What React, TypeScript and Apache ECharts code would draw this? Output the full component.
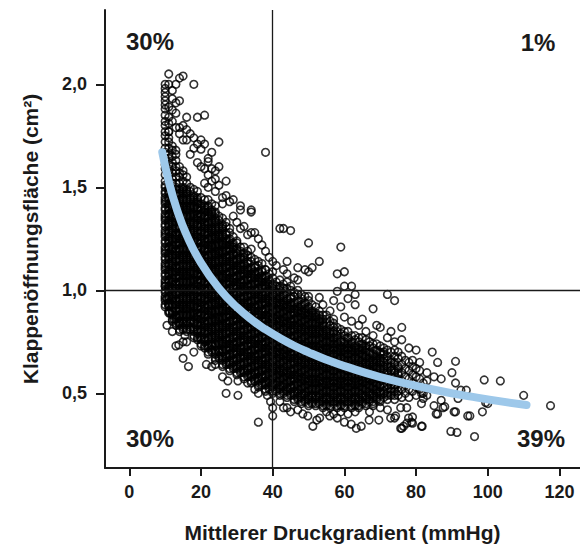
import React, { useEffect, useRef } from "react";
import * as echarts from "echarts";

const xTicks = [0, 20, 40, 60, 80, 100, 120];
const yTicks = [0.5, 1.0, 1.5, 2.0];
const xTitle = "Mittlerer Druckgradient (mmHg)";
const yTitle = "Klappenöffnungsfläche (cm²)";
const quadrantLabels = ["30%", "1%", "30%", "39%"];
const thresholdGradient = 40;
const thresholdArea = 1.0;

// fitted curve
const curveGradient = [9.2, 11, 13.3, 16, 20, 25, 30, 35, 38, 42, 46, 50, 55, 60, 70, 84, 97, 110.8];
const curveArea = [
  1.67, 1.529, 1.391, 1.268, 1.133, 1.01, 0.918, 0.846, 0.81, 0.768, 0.731, 0.699, 0.663, 0.632, 0.579, 0.521,
  0.479, 0.443,
];

// dense cloud: one column per mmHg, areas in 1/100 cm²
const denseGradients = [
  10, 11, 12, 13, 14, 15, 16, 17, 18, 19, 20, 21, 22, 23, 24, 25, 26, 27, 28, 29, 30,
  31, 32, 33, 34, 35, 36, 37, 38, 39, 40, 41, 42, 43, 44, 45, 46, 47, 48, 49, 50,
  51, 52, 53, 54, 55, 56, 57, 58, 59, 60, 61, 62, 63, 64, 65, 66, 67, 68, 69, 70,
  71, 72, 73, 74, 75, 76, 77, 78, 79, 80, 81, 82,
];
const denseAreas = [
  "92 95 97 100 103 105 108 111 113 116 119 121 124 127 129 132 135 137 140 143 145 148 151 153 156 159 161 164 167 169 172 175 177 180",
  "89 92 94 97 100 102 105 108 110 113 116 118 121 124 126 129 132 134 137 140 142 145 148 150 153 156 158 161 164 166 169 172 174 177",
  "85 88 90 93 96 98 101 104 106 109 112 114 117 120 122 125 128 130 133 136 138 141 144 146 149 152 154 157 160 162 165 168 170",
  "83 86 88 91 94 96 99 102 104 107 110 112 115 118 120 123 126 128 131 134 136 139 142 144 147 150 152 155 158 160 163 166 168",
  "80 83 85 88 91 93 96 99 101 104 107 109 112 115 117 120 123 125 128 131 133 136 139 141 144 147 149 152 155 157 160",
  "81 84 86 89 92 94 97 100 102 105 108 110 113 116 118 121 124 126 129 132 134 137 140 142 145 148 150 153 156 158",
  "80 83 85 88 91 93 96 99 101 104 107 109 112 115 117 120 123 125 128 131 133 136 139 141 144 147 149 152 155",
  "81 84 86 89 92 94 97 100 102 105 108 110 113 116 118 121 124 126 129 132 134 137 140 142 145 148 150",
  "77 80 82 85 88 90 93 96 98 101 104 106 109 112 114 117 120 122 125 128 130 133 136 138 141 144 146 149",
  "76 79 81 84 87 89 92 95 97 100 103 105 108 111 113 116 119 121 124 127 129 132 135 137 140 143 145 148",
  "73 76 78 81 84 86 89 92 94 97 100 102 105 108 110 113 116 118 121 124 126 129 132 134 137 140 142 145",
  "72 75 77 80 83 85 88 91 93 96 99 101 104 107 109 112 115 117 120 123 125 128 131 133 136 139 141 144",
  "69 72 74 77 80 82 85 88 90 93 96 98 101 104 106 109 112 114 117 120 122 125 128 130 133 136 138 141 144",
  "70 73 75 78 81 83 86 89 91 94 97 99 102 105 107 110 113 115 118 121 123 126 129 131 134 137 139 142",
  "66 69 71 74 77 79 82 85 87 90 93 95 98 101 103 106 109 111 114 117 119 122 125 127 130 133 135 138 141",
  "67 70 72 75 78 80 83 86 88 91 94 96 99 102 104 107 110 112 115 118 120 123 126 128 131 134 136",
  "63 66 68 71 74 76 79 82 84 87 90 92 95 98 100 103 106 108 111 114 116 119 122 124 127 130 132 135",
  "64 67 69 72 75 77 80 83 85 88 91 93 96 99 101 104 107 109 112 115 117 120 123 125 128 131 133",
  "61 64 66 69 72 74 77 80 82 85 88 90 93 96 98 101 104 106 109 112 114 117 120 122 125 128 130",
  "62 65 67 70 73 75 78 81 83 86 89 91 94 97 99 102 105 107 110 113 115 118 121 123 126",
  "59 62 64 67 70 72 75 78 80 83 86 88 91 94 96 99 102 104 107 110 112 115 118 120 123",
  "60 63 65 68 71 73 76 79 81 84 87 89 92 95 97 100 103 105 108 111 113 116 119 121",
  "57 60 62 65 68 70 73 76 78 81 84 86 89 92 94 97 100 102 105 108 110 113 116 118 121",
  "58 61 63 66 69 71 74 77 79 82 85 87 90 93 95 98 101 103 106 109 111 114 117 119",
  "55 58 60 63 66 68 71 74 76 79 82 84 87 90 92 95 98 100 103 106 108 111 114 116",
  "56 59 61 64 67 69 72 75 77 80 83 85 88 91 93 96 99 101 104 107 109 112 115",
  "53 56 58 61 64 66 69 72 74 77 80 82 85 88 90 93 96 98 101 104 106 109 112 114",
  "54 57 59 62 65 67 70 73 75 78 81 83 86 89 91 94 97 99 102 105 107 110 113",
  "51 54 56 59 62 64 67 70 72 75 78 80 83 86 88 91 94 96 99 102 104 107 110",
  "52 55 57 60 63 65 68 71 73 76 79 81 84 87 89 92 95 97 100 103 105 108",
  "50 53 55 58 61 63 66 69 71 74 77 79 82 85 87 90 93 95 98 101 103 106",
  "51 54 56 59 62 64 67 70 72 75 78 80 83 86 88 91 94 96 99 102 104",
  "49 52 54 57 60 62 65 68 70 73 76 78 81 84 86 89 92 94 97 100 102 105",
  "50 53 55 58 61 63 66 69 71 74 77 79 82 85 87 90 93 95 98 101 103",
  "48 51 53 56 59 61 64 67 69 72 75 77 80 83 85 88 91 93 96 99 101",
  "49 52 54 57 60 62 65 68 70 73 76 78 81 84 86 89 92 94 97 100 102",
  "46 49 51 54 57 59 62 65 67 70 73 75 78 81 83 86 89 91 94 97 99",
  "47 50 52 55 58 60 63 66 68 71 74 76 79 82 84 87 90 92 95 98 100",
  "45 48 50 53 56 58 61 64 66 69 72 74 77 80 82 85 88 90 93 96 98",
  "46 49 51 54 57 59 62 65 67 70 73 75 78 81 83 86 89 91 94 97",
  "44 47 49 52 55 57 60 63 65 68 71 73 76 79 81 84 87 89 92 95 97",
  "45 48 50 53 56 58 61 64 66 69 72 74 77 80 82 85 88 90 93",
  "44 47 49 52 55 57 60 63 65 68 71 73 76 79 81 84 87 89 92",
  "45 48 50 53 56 58 61 64 66 69 72 74 77 80 82 85 88 90",
  "43 46 48 51 54 56 59 62 64 67 70 72 75 78 80 83 86 88",
  "44 47 49 52 55 57 60 63 65 68 71 73 76 79 81 84 86",
  "43 46 48 51 54 56 59 62 64 67 70 72 75 78 80 83 85",
  "45 48 50 53 56 58 61 64 66 69 72 74 77 80 82 84",
  "43 46 48 51 54 56 59 62 64 67 70 72 75 78 80 82",
  "44 47 49 52 55 57 60 63 65 68 71 73 76 79 81",
  "43 46 48 51 54 56 59 62 64 67 70 72 75 78 80",
  "45 48 50 53 56 58 61 64 66 69 72 74 77 80",
  "43 46 48 51 54 56 59 62 64 67 70 72 75 78",
  "44 47 49 52 55 57 60 63 65 68 71 73 76 78",
  "43 46 48 51 54 56 59 62 64 67 70 72 75 77",
  "45 48 50 53 56 58 61 64 66 69 72 74 77",
  "44 47 49 52 55 57 60 63 65 68 71 73 76",
  "46 49 51 54 57 59 62 65 67 70 73 75",
  "45 48 50 53 56 58 61 64 66 69 72 74",
  "47 50 52 55 58 60 63 66 68 71 74",
  "46 49 51 54 57 59 62 65 67 70 73",
  "48 51 55 58 62 65 69 72",
  "47 50 54 57 61 64 68 71",
  "49 52 56 59 63 66 70",
  "47 51 54 58 61 65 68 71",
  "49 53 56 60 63 67 70",
  "48 52 56 60 64 68",
  "50 54 58 62 66",
  "48 52 57 61 65",
  "51 55 59 63 66",
  "49 53 58 62",
  "52 57 61",
  "50 55",
];

// second layer of the black core, same columns (10..75 mmHg), areas in 1/100 cm²
const coreGradients = [
  10, 11, 12, 13, 14, 15, 16, 17, 18, 19, 20, 21, 22, 23, 24, 25, 26, 27, 28, 29, 30,
  31, 32, 33, 34, 35, 36, 37, 38, 39, 40, 41, 42, 43, 44, 45, 46, 47, 48, 49, 50,
  51, 52, 53, 54, 55, 56, 57, 58, 59, 60, 61, 62, 63, 64, 65, 66, 67, 68, 69, 70,
  71, 72, 73, 74, 75,
];
const coreAreas = [
  "93 96 99 102 104 107 110 112 115 118 120 123 126 128 131 134 136 139 142 144 147 150",
  "90 93 96 99 101 104 107 109 112 115 117 120 123 125 128 131 133 136 139 141 144 147 149",
  "86 89 92 95 97 100 103 105 108 111 113 116 119 121 124 127 129 132 135 137 140 143 145 148",
  "84 87 90 93 95 98 101 103 106 109 111 114 117 119 122 125 127 130 133 135 138 141 143 146 149",
  "81 84 87 90 92 95 98 100 103 106 108 111 114 116 119 122 124 127 130 132 135 138 140 143 146 148",
  "82 85 88 91 93 96 99 101 104 107 109 112 115 117 120 123 125 128 131 133 136 139 141 144 147 149",
  "81 84 87 90 92 95 98 100 103 106 108 111 114 116 119 122 124 127 130 132 135 138 140 143 146 148",
  "82 85 88 91 93 96 99 101 104 107 109 112 115 117 120 123 125 128 131 133 136 139 141 144",
  "78 81 84 87 89 92 95 97 100 103 105 108 111 113 116 119 121 124 127 129 132 135 137 140 143 145",
  "77 80 83 86 88 91 94 96 99 102 104 107 110 112 115 118 120 123 126 128 131 134 136 139 142 144",
  "74 77 80 83 85 88 91 93 96 99 101 104 107 109 112 115 117 120 123 125 128 131 133 136 139 141",
  "73 76 79 82 84 87 90 92 95 98 100 103 106 108 111 114 116 119 122 124 127 130 132 135 138 140",
  "70 73 76 79 81 84 87 89 92 95 97 100 103 105 108 111 113 116 119 121 124 127 129 132 135 137 140",
  "71 74 77 80 82 85 88 90 93 96 98 101 104 106 109 112 114 117 120 122 125 128 130 133 136 138",
  "67 70 73 76 78 81 84 86 89 92 94 97 100 102 105 108 110 113 116 118 121 124 126 129 132 134 137",
  "68 71 74 77 79 82 85 87 90 93 95 98 101 103 106 109 111 114 117 119 122 125 127 130",
  "64 67 70 73 75 78 81 83 86 89 91 94 97 99 102 105 107 110 113 115 118 121 123 126 129 131",
  "65 68 71 74 76 79 82 84 87 90 92 95 98 100 103 106 108 111 114 116 119 122 124 127",
  "62 65 68 71 73 76 79 81 84 87 89 92 95 97 100 103 105 108 111 113 116 119 121 124",
  "63 66 69 72 74 77 80 82 85 88 90 93 96 98 101 104 106 109 112 114 117 120 122",
  "60 63 66 69 71 74 77 79 82 85 87 90 93 95 98 101 103 106 109 111 114 117 119",
  "61 64 67 70 72 75 78 80 83 86 88 91 94 96 99 102 104 107 110 112 115",
  "58 61 64 67 69 72 75 77 80 83 85 88 91 93 96 99 101 104 107 109 112 115 117",
  "59 62 65 68 70 73 76 78 81 84 86 89 92 94 97 100 102 105 108 110 113",
  "56 59 62 65 67 70 73 75 78 81 83 86 89 91 94 97 99 102 105 107 110",
  "57 60 63 66 68 71 74 76 79 82 84 87 90 92 95 98 100 103 106 108 111",
  "54 57 60 63 65 68 71 73 76 79 81 84 87 89 92 95 97 100 103 105 108",
  "55 58 61 64 66 69 72 74 77 80 82 85 88 90 93 96 98 101 104 106 109",
  "52 55 58 61 63 66 69 71 74 77 79 82 85 87 90 93 95 98 101 103 106",
  "53 56 59 62 64 67 70 72 75 78 80 83 86 88 91 94 96 99 102 104",
  "51 54 57 60 62 65 68 70 73 76 78 81 84 86 89 92 94 97 100 102",
  "52 55 58 61 63 66 69 71 74 77 79 82 85 87 90 93 95 98",
  "50 53 56 59 61 64 67 69 72 75 77 80 83 85 88 91 93 96 99 101",
  "51 54 57 60 62 65 68 70 73 76 78 81 84 86 89 92 94 97",
  "49 52 55 58 60 63 66 68 71 74 76 79 82 84 87 90 92 95",
  "50 53 56 59 61 64 67 69 72 75 77 80 83 85 88 91 93 96",
  "47 50 53 56 58 61 64 66 69 72 74 77 80 82 85 88 90 93",
  "48 51 54 57 59 62 65 67 70 73 75 78 81 83 86 89 91 94",
  "46 49 52 55 57 60 63 65 68 71 73 76 79 81 84 87 89 92",
  "47 50 53 56 58 61 64 66 69 72 74 77 80 82 85 88 90 93",
  "45 48 51 54 56 59 62 64 67 70 72 75 78 80 83 86 88 91",
  "46 49 52 55 57 60 63 65 68 71 73 76 79 81 84 87 89",
  "45 48 51 54 56 59 62 64 67 70 72 75 78 80 83 86 88",
  "46 49 52 55 57 60 63 65 68 71 73 76 79 81 84 86",
  "44 47 50 53 55 58 61 63 66 69 71 74 77 79 82 84",
  "45 48 51 54 56 59 62 64 67 70 72 75 78 80",
  "44 47 50 53 55 58 61 63 66 69 71 74 77 79",
  "46 49 52 55 57 60 63 65 68 71 73 76 79",
  "44 47 50 53 55 58 61 63 66 69 71 74 77",
  "45 48 51 54 56 59 62 64 67 70 72 75",
  "44 47 50 53 55 58 61 63 66 69 71 74",
  "46 49 52 55 57 60 63 65 68 71 73 76",
  "44 47 50 53 55 58 61 63 66 69 71 74",
  "45 48 51 54 56 59 62 64 67 70 72",
  "44 47 50 53 55 58 61 63 66 69 71",
  "46 49 52 55 57 60 63 65 68 71 73",
  "45 48 51 54 56 59 62 64 67 70 72",
  "47 50 53 56 58 61 64 66 69",
  "46 49 52 55 57 60 63 65 68",
  "48 51 54 57 59 62 65 67 70",
  "47 50 53 56 58 61 64 66 69",
  "50 53 57 60 63 67 70",
  "49 52 56 59 63 66",
  "51 54 58 61 65",
  "49 53 56 60 64",
  "51 55 59 62",
];

// scattered points around the cloud [gradient mmHg, area cm²]
const outlierPoints = [
  [11, 2.05], [14, 2.03], [15, 2.04], [18, 2.0], [10, 2.0], [11, 2.0], [13, 2.0], [10, 1.96], [10, 1.94],
  [13, 1.91], [14, 1.92], [10, 1.9], [11, 1.89], [12, 1.875], [16, 1.84], [19, 1.84], [21, 1.85], [10, 1.85],
  [10, 1.82], [11, 1.81], [14, 1.79], [11, 1.77], [14, 1.76], [16, 1.78], [10, 1.88], [10, 1.92], [10, 1.98],
  [12, 1.93], [12, 1.97], [11, 1.84], [12, 1.82], [13, 1.86], [13, 1.79], [15, 1.8], [17, 1.76], [18, 1.74],
  [15, 1.73], [16, 1.73], [20, 1.73], [21, 1.71], [25, 1.72], [18, 1.69], [20, 1.685], [23, 1.67], [38, 1.67],
  [19, 1.71], [17, 1.66], [19, 1.62], [20, 1.6], [22, 1.625], [22, 1.64], [24, 1.58], [27, 1.53], [24, 1.54],
  [22, 1.56], [21, 1.59], [23, 1.59], [25, 1.6], [23, 1.53], [21, 1.52], [22, 1.5], [24, 1.48], [25, 1.51],
  [26, 1.45], [28, 1.43], [27, 1.46], [29, 1.44], [31, 1.39], [34, 1.38], [26, 1.42], [31, 1.41], [34, 1.39],
  [29, 1.36], [30, 1.33], [31, 1.3], [32, 1.31], [33, 1.27], [35, 1.28], [34, 1.28], [30, 1.24], [34, 1.2],
  [36, 1.25], [37, 1.22], [38, 1.19], [39, 1.16], [40, 1.14], [41, 1.12], [43, 1.1], [38, 1.1], [40, 1.09],
  [42, 1.3], [43, 1.3], [45, 1.29], [44, 1.14], [44, 1.08], [44, 1.04], [46, 1.06], [47, 1.05], [50, 1.23],
  [59, 1.21], [47, 1.11], [49, 1.1], [51, 1.11], [53, 1.14], [50, 1.09], [58, 1.08], [60, 1.09], [60, 1.02],
  [62, 1.02], [58, 0.995], [63, 0.98], [57, 0.95], [61, 0.96], [63, 0.93], [59, 0.92], [72, 0.98], [74, 0.95],
  [68, 0.91], [53, 0.965], [54, 0.93], [56, 0.9], [55, 0.88], [57, 0.86], [60, 0.87], [62, 0.85], [64, 0.83],
  [65, 0.86], [69, 0.83], [70, 0.82], [73, 0.8], [76, 0.82], [66, 0.8], [68, 0.78], [72, 0.77], [74, 0.75],
  [76, 0.76], [78, 0.72], [80, 0.71], [81, 0.65], [83, 0.56], [83, 0.49], [84.5, 0.7], [86, 0.65], [91, 0.655],
  [90, 0.6], [91, 0.55], [99, 0.565], [103.5, 0.56], [110, 0.49], [117.5, 0.44], [85, 0.58], [87, 0.57],
  [83, 0.6], [94, 0.515], [92.5, 0.515], [81.5, 0.5], [82, 0.475], [81.5, 0.45], [87, 0.466], [85, 0.44],
  [87.5, 0.43], [85.6, 0.4], [90.6, 0.41], [94.4, 0.39], [98.5, 0.41], [99.4, 0.455], [91.7, 0.475],
  [81.7, 0.34], [89.7, 0.315], [91.4, 0.31], [96.3, 0.29], [88, 0.435], [100, 0.45], [76, 0.33], [77.4, 0.355],
  [79, 0.355], [79, 0.385], [74, 0.38], [86, 0.4], [91, 0.41], [95, 0.39],
  [13, 0.73], [15, 0.75], [16, 0.75], [15, 0.67], [16.5, 0.63], [18, 0.7], [21.5, 0.64], [23, 0.63],
  [24, 0.64], [26, 0.58], [27.5, 0.56], [27, 0.5], [30.3, 0.49], [30.3, 0.56], [33, 0.55], [35, 0.52],
  [36, 0.5], [38.5, 0.49], [39.4, 0.46], [40, 0.43], [40, 0.39], [36, 0.36], [42, 0.46], [44, 0.43],
  [43, 0.43], [48.4, 0.4], [49.8, 0.39], [51.2, 0.34], [52.3, 0.37], [53.1, 0.38], [55.9, 0.39], [61.9, 0.35],
  [63.3, 0.33], [64.7, 0.34], [66.9, 0.37], [69.6, 0.37], [72.9, 0.38], [74.3, 0.39], [75.7, 0.43],
  [77.4, 0.43], [77.9, 0.38], [75.7, 0.33], [76.5, 0.34], [78.7, 0.36], [81.5, 0.34], [45, 0.41], [47, 0.42],
  [55, 0.41], [57, 0.4], [59, 0.41], [61, 0.4], [63, 0.41], [58, 0.38], [60, 0.36], [67, 0.41], [70, 0.43],
  [72, 0.42], [68, 0.44], [10.5, 0.96], [11.3, 0.89], [10.5, 0.83], [12.5, 0.86], [14, 0.84], [13.8, 0.735],
  [15.5, 0.78], [10, 1.02], [11, 0.93], [12, 0.8],
];

const TEXT = "#1a1a1a";
const FONT = "'Liberation Sans', Arial, sans-serif";

export default function App() {
  const ref = useRef<HTMLDivElement>(null);

  useEffect(() => {
    if (!ref.current) return;
    const chart = echarts.init(ref.current, undefined, { renderer: "svg" });

    const points: number[][] = [];
    denseGradients.forEach((g, i) => {
      denseAreas[i].split(" ").forEach((v) => points.push([g, Number(v) / 100]));
    });
    coreGradients.forEach((g, i) => {
      coreAreas[i].split(" ").forEach((v) => points.push([g, Number(v) / 100]));
    });
    outlierPoints.forEach((p) => points.push(p));

    const curve = curveGradient.map((g, i) => [g, curveArea[i]]);

    const quadText = (text: string, x: number, y: number) => ({
      type: "text",
      x,
      y,
      silent: true,
      style: {
        text,
        fill: TEXT,
        font: `bold 24px ${FONT}`,
        align: "center",
        verticalAlign: "middle",
      },
    });

    chart.setOption({
      animation: false,
      grid: {
        left: 105,
        right: 0,
        top: 10,
        bottom: 76,
        containLabel: false,
        outerBoundsMode: "none",
      },
      xAxis: {
        type: "value",
        min: -6.78,
        max: 125.72,
        name: xTitle,
        nameLocation: "middle",
        nameGap: 54,
        nameTextStyle: { color: TEXT, fontSize: 21, fontWeight: "bold", fontFamily: FONT },
        axisLine: { show: true, onZero: false, lineStyle: { color: TEXT, width: 2 } },
        axisTick: { show: true, customValues: xTicks, length: 8, lineStyle: { color: TEXT, width: 2 } },
        axisLabel: {
          customValues: xTicks,
          margin: 15,
          color: TEXT,
          fontSize: 18,
          fontWeight: "bold",
          fontFamily: FONT,
        },
        splitLine: { show: false },
      },
      yAxis: {
        type: "value",
        min: 0.1374,
        max: 2.3607,
        name: yTitle,
        nameLocation: "middle",
        nameGap: 64,
        nameTextStyle: { color: TEXT, fontSize: 21, fontWeight: "bold", fontFamily: FONT },
        axisLine: { show: true, onZero: false, lineStyle: { color: TEXT, width: 2 } },
        axisTick: { show: true, customValues: yTicks, length: 9, lineStyle: { color: TEXT, width: 2 } },
        axisLabel: {
          customValues: yTicks,
          margin: 18,
          color: TEXT,
          fontSize: 18,
          fontWeight: "bold",
          fontFamily: FONT,
          formatter: (v: number) => v.toFixed(1).replace(".", ","),
        },
        splitLine: { show: false },
      },
      graphic: [
        quadText(quadrantLabels[0], 150, 41),
        quadText(quadrantLabels[1], 538, 42),
        quadText(quadrantLabels[2], 150, 438),
        quadText(quadrantLabels[3], 541, 438),
      ],
      series: [
        {
          type: "scatter",
          data: points,
          symbol: "circle",
          symbolSize: 7.6,
          large: false,
          progressive: 0,
          silent: true,
          z: 2,
          itemStyle: { color: "rgba(255,255,255,0)", borderColor: "#000", borderWidth: 1.6 },
          markLine: {
            silent: true,
            symbol: "none",
            label: { show: false },
            lineStyle: { color: TEXT, width: 1.3, type: "solid" },
            data: [{ xAxis: thresholdGradient }, { yAxis: thresholdArea }],
          },
        },
        {
          type: "line",
          data: curve,
          smooth: true,
          showSymbol: false,
          silent: true,
          z: 5,
          lineStyle: { color: "#9dc8ea", width: 8, cap: "round" },
        },
      ],
    });

    return () => chart.dispose();
  }, []);

  return (
    <div
      ref={ref}
      style={{ position: "fixed", left: 0, top: 0, width: 580, height: 544, background: "#fff" }}
    />
  );
}
